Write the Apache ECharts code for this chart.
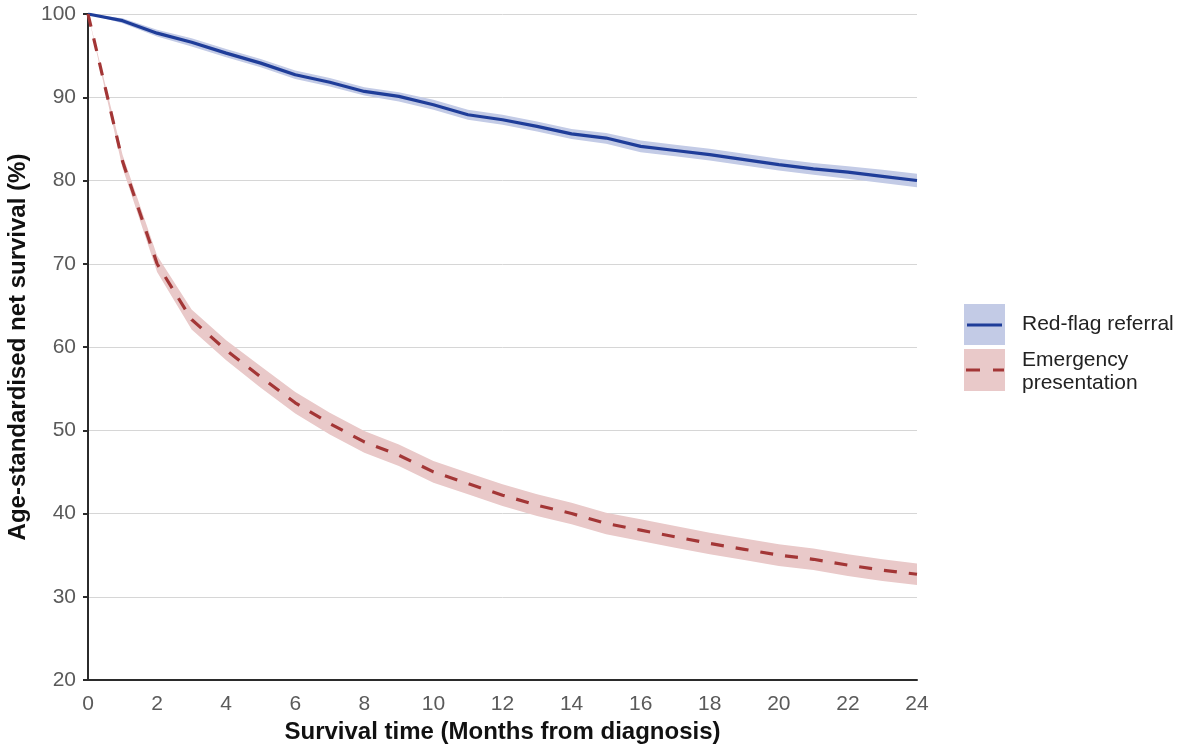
<!DOCTYPE html>
<html>
<head>
<meta charset="utf-8">
<script src="https://cdn.jsdelivr.net/npm/echarts@6/dist/echarts.min.js"></script>
<style>html,body{margin:0;padding:0;background:#fff}#c{width:1193px;height:746px}</style>
</head>
<body>
<div id="c"></div>
<script>
var months = [0,1,2,3,4,5,6,7,8,9,10,11,12,13,14,15,16,17,18,19,20,21,22,23,24];
var xTicks = [0,2,4,6,8,10,12,14,16,18,20,22,24];
var yTicks = [20,30,40,50,60,70,80,90,100];
var redFlag = [100,99.2,97.7,96.6,95.3,94.1,92.7,91.8,90.7,90.1,89.1,87.9,87.3,86.5,85.6,85.1,84.1,83.6,83.1,82.5,81.9,81.4,81.0,80.5,80.0];
var redFlagLo = [100,98.9,97.3,96.1,94.8,93.6,92.2,91.3,90.2,89.5,88.5,87.3,86.7,85.9,85.0,84.4,83.4,82.9,82.4,81.8,81.2,80.7,80.2,79.7,79.2];
var redFlagHi = [100,99.5,98.1,97.1,95.8,94.6,93.2,92.3,91.2,90.6,89.7,88.5,87.9,87.1,86.2,85.7,84.8,84.3,83.8,83.2,82.6,82.1,81.7,81.3,80.8];
var emergency = [100,82.3,70.0,63.3,59.6,56.4,53.3,50.8,48.6,47.0,45.0,43.6,42.2,41.0,40.0,38.8,38.0,37.2,36.4,35.7,35.0,34.5,33.8,33.2,32.7];
var emergencyLo = [100,81.5,69.0,62.1,58.4,55.1,52.0,49.5,47.3,45.7,43.7,42.3,40.9,39.7,38.7,37.5,36.7,35.9,35.1,34.4,33.7,33.2,32.5,31.9,31.4];
var emergencyHi = [100,83.1,71.0,64.5,60.8,57.7,54.6,52.1,49.9,48.3,46.3,44.9,43.5,42.3,41.3,40.1,39.3,38.5,37.7,37.0,36.3,35.8,35.1,34.5,34.0];
var seriesNames = ['Red-flag referral', 'Emergency presentation'];

function pairs(arr){ return months.map(function(m,i){ return [m, arr[i]]; }); }
function bandData(lo, hi){ return months.map(function(m,i){ return [m, lo[i], hi[i]]; }); }

var blueLine = '#1f3d99', blueBand = '#c3cbe6';
var redLine = '#a33636', redBand = '#e9c9c9';
var FONT = '"Liberation Sans", Arial, sans-serif';

function bandRenderer(lo, hi, color){
  return function(params, api){
    if (params.dataIndex !== 0) return null;
    var top = [], bot = [];
    for (var i = 0; i < months.length; i++){
      top.push(api.coord([months[i], hi[i]]));
      bot.push(api.coord([months[i], lo[i]]));
    }
    var pts = top.concat(bot.reverse());
    return {type: 'polygon', shape: {points: pts}, style: {fill: color}, silent: true};
  };
}

var chart = echarts.init(document.getElementById('c'));
chart.setOption({
  animation: false,
  grid: {left: 88, right: 276, top: 14, bottom: 66, containLabel: false, outerBoundsMode: 'none'},
  xAxis: {
    type: 'value', min: 0, max: 24, interval: 2,
    name: 'Survival time (Months from diagnosis)', nameLocation: 'middle', nameGap: 40,
    nameTextStyle: {fontFamily: FONT, fontWeight: 'bold', fontSize: 24, color: '#111'},
    axisLine: {show: true, onZero: false, lineStyle: {color: '#2b2b2b', width: 2}},
    axisTick: {show: false},
    splitLine: {show: false},
    axisLabel: {fontFamily: FONT, fontSize: 21, color: '#5a5a5a', margin: 14,
      formatter: function(v){ return xTicks.indexOf(v) >= 0 ? String(v) : ''; }}
  },
  yAxis: {
    type: 'value', min: 20, max: 100, interval: 10,
    name: 'Age-standardised net survival (%)', nameLocation: 'middle', nameGap: 56, nameRotate: 90,
    nameTextStyle: {fontFamily: FONT, fontWeight: 'bold', fontSize: 24, color: '#111'},
    axisLine: {show: true, lineStyle: {color: '#2b2b2b', width: 2}},
    axisTick: {show: true, length: 5, lineStyle: {color: '#2b2b2b', width: 2}},
    splitLine: {show: true, lineStyle: {color: '#d6d6d6', width: 1}},
    axisLabel: {fontFamily: FONT, fontSize: 21, color: '#5a5a5a', margin: 12,
      formatter: function(v){ return yTicks.indexOf(v) >= 0 ? String(v) : ''; }}
  },
  series: [
    {name: 'rfBand', type: 'custom', data: bandData(redFlagLo, redFlagHi), renderItem: bandRenderer(redFlagLo, redFlagHi, blueBand), silent: true, z: 1},
    {name: 'emBand', type: 'custom', data: bandData(emergencyLo, emergencyHi), renderItem: bandRenderer(emergencyLo, emergencyHi, redBand), silent: true, z: 1},
    {name: seriesNames[0], type: 'line', data: pairs(redFlag), symbol: 'none', lineStyle: {color: blueLine, width: 3.2}, z: 3},
    {name: seriesNames[1], type: 'line', data: pairs(emergency), symbol: 'none', lineStyle: {color: redLine, width: 3.2, type: [13, 12]}, z: 3}
  ],
  graphic: [
    {type: 'rect', left: 964, top: 304, shape: {width: 41, height: 41}, style: {fill: blueBand}},
    {type: 'line', shape: {x1: 967, y1: 325, x2: 1002, y2: 325}, style: {stroke: blueLine, lineWidth: 3}},
    {type: 'text', left: 1022, top: 314, style: {text: seriesNames[0], font: '21px ' + FONT, fill: '#222'}},
    {type: 'rect', left: 964, top: 349, shape: {width: 41, height: 42}, style: {fill: redBand}},
    {type: 'line', shape: {x1: 966, y1: 370, x2: 1004, y2: 370}, style: {stroke: redLine, lineWidth: 3, lineDash: [14, 13]}},
    {type: 'text', left: 1022, top: 349, style: {text: 'Emergency\npresentation', font: '21px ' + FONT, fill: '#222', lineHeight: 23}}
  ]
});
</script>
</body>
</html>
